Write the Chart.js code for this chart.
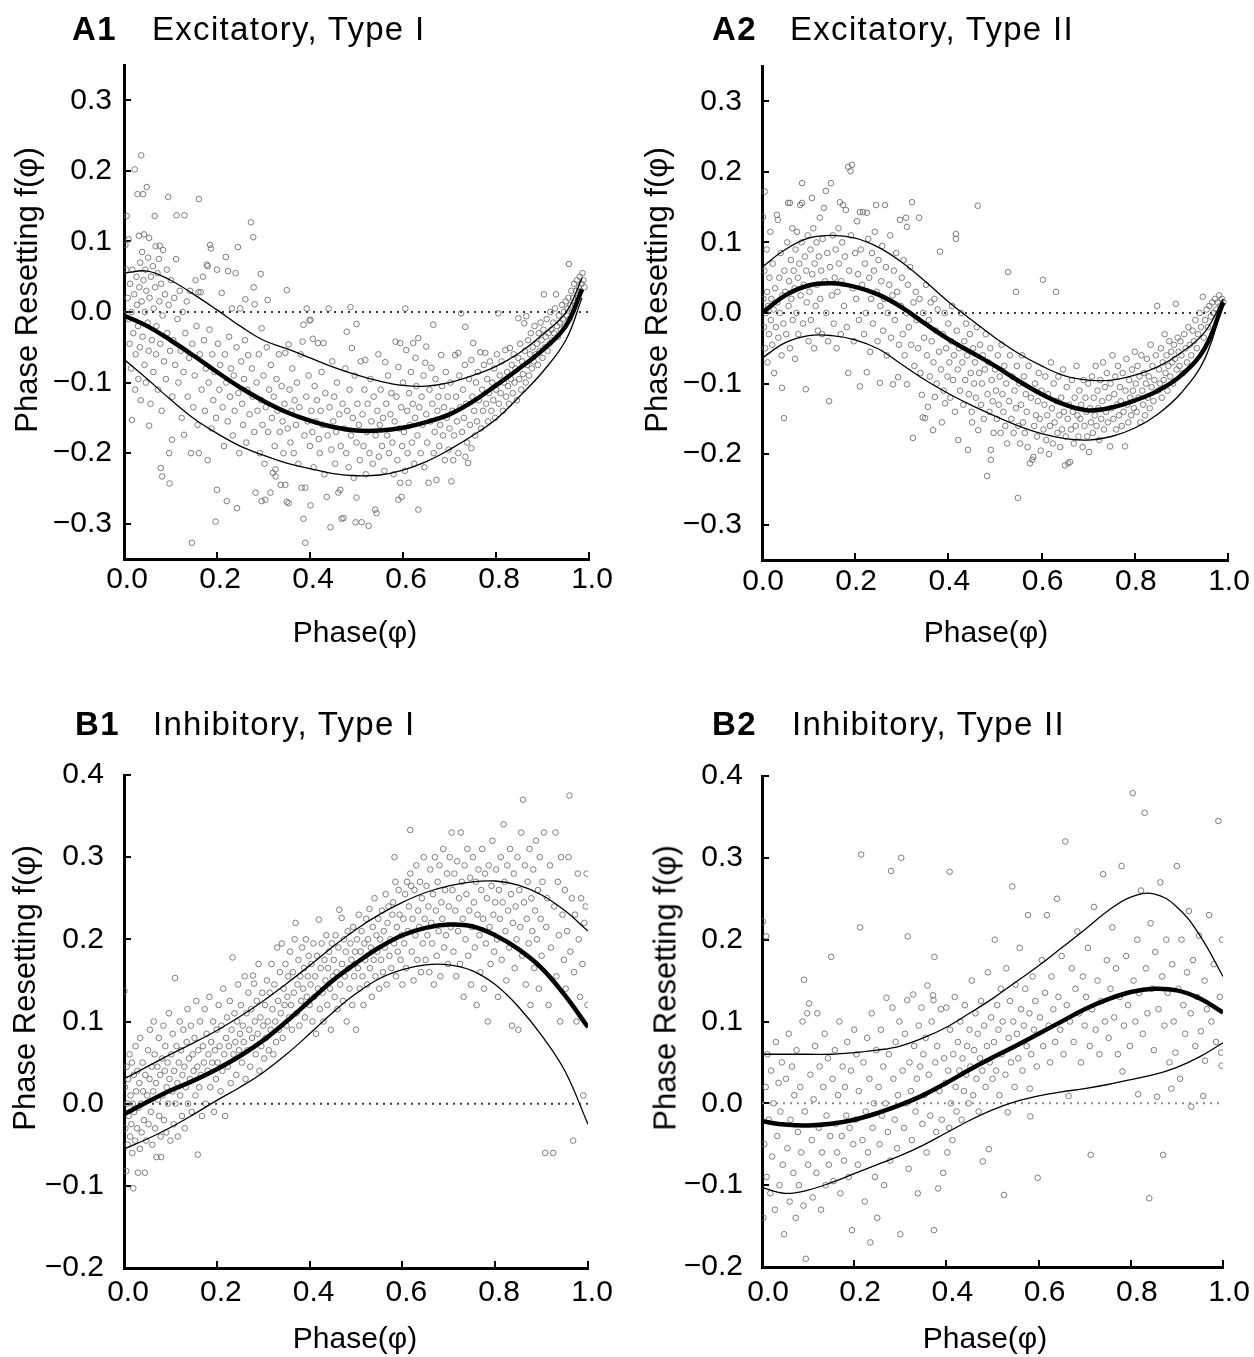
<!DOCTYPE html>
<html lang="en">
<head>
<meta charset="UTF-8" />
<title>Phase resetting curves</title>
<script src="https://cdn.jsdelivr.net/npm/chart.js@4.4.0/dist/chart.umd.min.js"></script>
<style>
  body { margin: 0; background: #fff; }
  #stage { position: relative; width: 1254px; height: 1357px; overflow: hidden; font-family: "Liberation Sans", Arial, sans-serif; color: #000; }
  #stage canvas { position: absolute; left: 0; top: 0; }
  .txt { position: absolute; line-height: 1; white-space: nowrap; }
  .ttl { font-size: 33px; letter-spacing: 1.3px; }
  .ttl b { font-weight: bold; }
  .xt { font-size: 30px; transform: translateX(-50%); }
  .yt { font-size: 31px; transform: translate(-50%, -50%) rotate(-90deg); }
</style>
</head>
<body>
<div id="stage"></div>
<script>
// ---- data ----
const xTicks = [0, 0.2, 0.4, 0.6, 0.8, 1.0];
const aYTicks = [-0.3, -0.2, -0.1, 0, 0.1, 0.2, 0.3];
const bYTicks = [-0.2, -0.1, 0, 0.1, 0.2, 0.3, 0.4];
const zeroLineX = [0, 1];

const a1CurveX = [0,0.05,0.1,0.15,0.2,0.25,0.3,0.35,0.4,0.45,0.5,0.55,0.6,0.65,0.7,0.75,0.8,0.85,0.9,0.95,0.985];
const a1Mean  = [-0.005,-0.02,-0.04,-0.062,-0.085,-0.107,-0.126,-0.142,-0.154,-0.163,-0.168,-0.168,-0.164,-0.156,-0.145,-0.127,-0.104,-0.08,-0.054,-0.02,0.032];
const a1Upper = [0.055,0.058,0.045,0.025,0.003,-0.02,-0.04,-0.052,-0.065,-0.078,-0.089,-0.098,-0.104,-0.105,-0.1,-0.09,-0.077,-0.058,-0.032,-0.001,0.048];
const a1Lower = [-0.067,-0.095,-0.124,-0.151,-0.172,-0.19,-0.203,-0.214,-0.222,-0.229,-0.232,-0.231,-0.224,-0.212,-0.195,-0.175,-0.152,-0.12,-0.085,-0.04,0.02];

const a2CurveX = [0,0.05,0.1,0.15,0.2,0.25,0.3,0.35,0.4,0.45,0.5,0.55,0.6,0.65,0.7,0.75,0.8,0.85,0.9,0.95,0.99];
const a2Mean  = [0.0,0.025,0.039,0.042,0.037,0.026,0.008,-0.015,-0.037,-0.056,-0.075,-0.096,-0.115,-0.13,-0.138,-0.134,-0.124,-0.11,-0.088,-0.05,0.015];
const a2Upper = [0.065,0.09,0.106,0.11,0.106,0.093,0.072,0.045,0.016,-0.01,-0.035,-0.057,-0.075,-0.089,-0.095,-0.095,-0.088,-0.076,-0.056,-0.027,0.02];
const a2Lower = [-0.064,-0.042,-0.032,-0.032,-0.038,-0.051,-0.073,-0.095,-0.114,-0.131,-0.146,-0.16,-0.171,-0.178,-0.18,-0.175,-0.163,-0.143,-0.113,-0.065,0.015];

const b1CurveX = [0,0.05,0.1,0.15,0.2,0.25,0.3,0.35,0.4,0.45,0.5,0.55,0.6,0.65,0.7,0.75,0.8,0.85,0.9,0.95,1.0];
const b1Mean  = [-0.013,0.002,0.016,0.028,0.042,0.058,0.077,0.1,0.125,0.15,0.171,0.19,0.205,0.214,0.218,0.216,0.205,0.188,0.165,0.132,0.093];
const b1Upper = [0.03,0.045,0.06,0.074,0.089,0.106,0.125,0.146,0.168,0.191,0.212,0.23,0.245,0.257,0.265,0.27,0.271,0.266,0.254,0.235,0.21];
const b1Lower = [-0.055,-0.043,-0.029,-0.013,0.004,0.02,0.038,0.06,0.085,0.111,0.134,0.152,0.163,0.169,0.169,0.162,0.145,0.118,0.083,0.04,-0.025];

const b2CurveX = [0,0.05,0.1,0.15,0.2,0.25,0.3,0.35,0.4,0.45,0.5,0.55,0.6,0.65,0.7,0.75,0.8,0.85,0.9,0.95,1.0];
const b2Mean  = [-0.022,-0.026,-0.027,-0.025,-0.02,-0.012,-0.002,0.01,0.025,0.041,0.056,0.07,0.085,0.1,0.115,0.127,0.136,0.14,0.138,0.128,0.111];
const b2Upper = [0.06,0.06,0.06,0.06,0.062,0.065,0.07,0.08,0.093,0.11,0.128,0.148,0.168,0.19,0.212,0.235,0.252,0.256,0.24,0.205,0.155];
const b2Lower = [-0.103,-0.11,-0.106,-0.097,-0.086,-0.075,-0.064,-0.051,-0.036,-0.021,-0.008,0.002,0.009,0.014,0.018,0.023,0.029,0.035,0.044,0.057,0.074];

const a1Points = [
[0.003,0.095],[0.005,0.06],[0.006,0.136],[0.008,0.02],[0.01,-0.01],[0.01,0.103],[0.012,-0.045],[0.013,0.04],[0.015,-0.08],[0.016,0.0],[0.017,-0.153],[0.018,0.06],[0.02,-0.03],[0.022,0.025],[0.023,0.202],[0.024,-0.11],[0.025,-0.06],[0.027,0.05],[0.028,0.01],[0.029,0.167],[0.03,-0.02],[0.031,-0.095],[0.032,0.108],[0.033,0.035],[0.034,-0.05],[0.035,0.07],[0.036,-0.125],[0.037,0.222],[0.038,0.015],[0.039,0.085],[0.04,-0.035],[0.041,0.167],[0.042,0.045],[0.043,0.11],[0.044,-0.075],[0.045,0.0],[0.046,0.06],[0.047,-0.1],[0.048,0.03],[0.049,0.177],
[0.051,-0.015],[0.052,0.077],[0.053,-0.055],[0.054,0.105],[0.054,-0.161],[0.055,0.02],[0.057,-0.13],[0.058,0.05],[0.06,-0.04],[0.062,0.065],[0.063,-0.085],[0.064,0.005],[0.066,0.136],[0.067,0.035],[0.068,0.093],[0.069,-0.06],[0.07,-0.02],[0.072,0.055],[0.073,-0.11],[0.075,0.075],[0.076,0.015],[0.077,0.094],[0.078,-0.045],[0.079,-0.221],[0.08,0.04],[0.081,-0.14],[0.082,-0.233],[0.083,-0.005],[0.084,0.088],[0.086,-0.07],[0.088,0.025],[0.09,-0.095],[0.092,0.06],[0.093,-0.03],[0.095,0.163],[0.096,0.01],[0.097,-0.2],[0.098,-0.243],[0.099,-0.055],
[0.101,0.045],[0.103,-0.181],[0.104,-0.12],[0.106,-0.04],[0.108,0.02],[0.11,-0.075],[0.112,0.075],[0.113,0.137],[0.115,-0.01],[0.117,-0.1],[0.12,0.03],[0.122,-0.055],[0.124,-0.15],[0.126,0.0],[0.128,-0.085],[0.129,-0.174],[0.13,0.137],[0.132,-0.03],[0.135,0.015],[0.137,-0.12],[0.14,-0.065],[0.142,0.03],[0.144,-0.2],[0.146,-0.327],[0.147,-0.045],[0.149,-0.135],
[0.152,-0.09],[0.154,0.045],[0.156,-0.02],[0.158,-0.16],[0.16,0.028],[0.161,0.16],[0.161,-0.2],[0.163,-0.06],[0.165,0.028],[0.167,-0.11],[0.17,0.05],[0.172,-0.04],[0.174,-0.14],[0.176,-0.08],[0.178,0.067],[0.18,0.065],[0.18,-0.21],[0.182,-0.1],[0.184,-0.025],[0.185,0.095],[0.187,0.09],[0.188,-0.165],[0.19,-0.06],[0.192,-0.125],[0.195,-0.085],[0.197,-0.297],[0.198,-0.15],
[0.2,0.06],[0.2,-0.252],[0.202,-0.045],[0.205,-0.11],[0.207,-0.075],[0.21,0.027],[0.212,-0.135],[0.215,-0.19],[0.217,-0.06],[0.219,0.078],[0.22,-0.1],[0.221,-0.268],[0.223,-0.155],[0.224,0.058],[0.226,-0.035],[0.228,-0.12],[0.23,-0.08],[0.232,0.005],[0.234,-0.175],[0.236,-0.09],[0.238,-0.14],[0.24,0.055],[0.242,-0.05],[0.243,-0.278],[0.245,0.092],[0.246,-0.115],[0.248,-0.2],[0.25,0.005],
[0.252,-0.07],[0.254,-0.13],[0.256,-0.16],[0.258,-0.095],[0.26,-0.04],[0.261,0.018],[0.263,-0.185],[0.265,-0.11],[0.267,-0.061],[0.27,-0.145],[0.273,0.127],[0.275,-0.08],[0.277,-0.12],[0.278,0.106],[0.279,0.035],[0.28,-0.17],[0.281,0.011],[0.283,-0.256],[0.285,-0.1],[0.287,-0.14],[0.29,-0.06],[0.292,-0.2],[0.294,0.054],[0.295,-0.125],[0.296,-0.023],[0.296,-0.268],[0.298,-0.16],
[0.3,-0.09],[0.302,-0.215],[0.304,-0.266],[0.305,-0.135],[0.307,-0.05],[0.309,0.017],[0.31,-0.17],[0.312,-0.11],[0.315,-0.256],[0.316,-0.075],[0.318,-0.15],[0.32,-0.228],[0.322,-0.12],[0.324,-0.19],[0.326,-0.223],[0.326,-0.233],[0.328,-0.095],[0.33,-0.14],[0.333,-0.06],[0.335,-0.17],[0.337,-0.245],[0.339,-0.105],[0.341,-0.155],[0.343,-0.2],[0.345,-0.13],[0.347,-0.245],[0.347,-0.058],[0.35,0.031],[0.35,-0.269],
[0.352,-0.165],[0.354,-0.271],[0.354,-0.046],[0.356,-0.11],[0.358,-0.185],[0.36,-0.14],[0.362,-0.08],[0.365,-0.2],[0.367,-0.125],[0.37,-0.16],[0.372,-0.1],[0.375,-0.215],[0.377,-0.135],[0.38,-0.06],[0.382,-0.249],[0.384,-0.042],[0.386,-0.018],[0.386,-0.293],[0.388,-0.175],[0.39,-0.327],[0.39,-0.249],[0.392,-0.12],[0.393,0.005],[0.395,-0.155],[0.397,-0.09],[0.399,-0.012],[0.4,-0.19],
[0.401,-0.011],[0.401,-0.274],[0.403,-0.14],[0.405,-0.17],[0.406,-0.038],[0.408,-0.22],[0.41,-0.105],[0.412,-0.155],[0.415,-0.125],[0.417,-0.044],[0.419,-0.18],[0.421,-0.2],[0.423,-0.14],[0.425,-0.085],[0.427,-0.16],[0.429,-0.044],[0.431,-0.23],[0.433,-0.115],[0.436,-0.262],[0.438,-0.175],[0.44,0.005],[0.442,-0.135],[0.444,-0.305],[0.446,-0.195],[0.448,-0.07],[0.45,-0.155],
[0.452,-0.12],[0.454,-0.215],[0.456,-0.17],[0.458,-0.1],[0.461,-0.256],[0.463,-0.145],[0.465,-0.252],[0.466,-0.19],[0.468,-0.293],[0.47,-0.13],[0.472,-0.292],[0.474,-0.165],[0.476,-0.08],[0.478,-0.2],[0.479,-0.028],[0.48,-0.14],[0.483,-0.22],[0.485,-0.11],[0.487,0.007],[0.488,-0.175],[0.49,-0.051],[0.492,-0.15],[0.494,-0.235],[0.496,-0.09],[0.498,-0.298],[0.5,-0.017],[0.5,-0.263],[0.5,-0.185],
[0.502,-0.13],[0.505,-0.16],[0.507,-0.21],[0.509,-0.07],[0.511,-0.298],[0.513,-0.145],[0.515,-0.19],[0.517,-0.11],[0.519,-0.068],[0.52,-0.23],[0.522,-0.17],[0.524,-0.13],[0.526,-0.303],[0.528,-0.2],[0.53,-0.095],[0.532,-0.155],[0.535,-0.215],[0.537,-0.12],[0.54,-0.28],[0.541,-0.175],[0.543,-0.285],[0.545,-0.14],[0.547,-0.06],[0.548,-0.205],[0.55,-0.16],
[0.552,-0.11],[0.555,-0.19],[0.557,-0.15],[0.56,-0.225],[0.562,-0.071],[0.564,-0.13],[0.566,-0.175],[0.568,-0.09],[0.57,-0.2],[0.573,-0.145],[0.575,-0.115],[0.577,-0.185],[0.58,-0.23],[0.582,-0.155],[0.584,-0.042],[0.586,-0.12],[0.588,-0.21],[0.59,-0.078],[0.59,-0.266],[0.592,-0.165],[0.594,-0.044],[0.594,-0.242],[0.596,-0.135],[0.597,-0.262],[0.598,-0.19],[0.6,-0.1],
[0.602,-0.17],[0.604,-0.225],[0.605,0.005],[0.607,-0.054],[0.609,-0.14],[0.61,-0.2],[0.612,-0.242],[0.613,-0.115],[0.615,-0.16],[0.617,-0.085],[0.619,-0.185],[0.621,-0.13],[0.622,-0.044],[0.624,-0.215],[0.626,-0.15],[0.627,-0.065],[0.629,-0.105],[0.631,-0.175],[0.633,-0.037],[0.633,-0.28],[0.635,-0.135],[0.638,-0.2],[0.64,-0.12],[0.642,-0.16],[0.644,-0.09],[0.646,-0.22],[0.648,-0.072],[0.65,-0.049],[0.65,-0.145],
[0.652,-0.185],[0.655,-0.242],[0.657,-0.11],[0.659,-0.155],[0.661,-0.079],[0.663,-0.13],[0.665,-0.018],[0.666,-0.2],[0.668,-0.17],[0.67,-0.095],[0.672,-0.238],[0.674,-0.14],[0.676,-0.12],[0.678,-0.19],[0.68,-0.16],[0.682,-0.061],[0.684,-0.105],[0.686,-0.175],[0.688,-0.135],[0.69,-0.21],[0.692,-0.085],[0.694,-0.15],[0.696,-0.12],[0.698,-0.195],[0.7,-0.165],
[0.702,-0.1],[0.704,-0.24],[0.706,-0.14],[0.708,-0.21],[0.71,-0.175],[0.712,-0.061],[0.714,-0.12],[0.716,-0.155],[0.719,-0.2],[0.719,-0.058],[0.721,-0.09],[0.723,-0.135],[0.725,-0.002],[0.727,-0.17],[0.729,-0.11],[0.731,-0.15],[0.733,-0.075],[0.734,-0.205],[0.734,-0.021],[0.736,-0.13],[0.738,-0.185],[0.74,-0.214],[0.742,-0.095],[0.744,-0.16],[0.747,-0.068],[0.747,-0.193],[0.749,-0.12],[0.751,-0.044],
[0.753,-0.14],[0.755,-0.175],[0.757,-0.1],[0.759,-0.155],[0.761,-0.085],[0.763,-0.125],[0.766,-0.057],[0.768,-0.165],[0.77,-0.11],[0.772,-0.14],[0.774,-0.075],[0.777,-0.058],[0.779,-0.13],[0.781,-0.095],[0.783,-0.155],[0.785,-0.115],[0.787,-0.07],[0.79,-0.14],[0.792,-0.1],[0.794,-0.125],[0.796,-0.08],[0.798,-0.15],[0.8,-0.11],
[0.802,-0.06],[0.805,-0.002],[0.806,-0.13],[0.808,-0.09],[0.81,-0.115],[0.812,-0.07],[0.815,-0.14],[0.817,-0.1],[0.82,-0.054],[0.822,-0.12],[0.824,-0.085],[0.826,-0.105],[0.828,-0.13],[0.83,-0.051],[0.832,-0.095],[0.834,-0.075],[0.836,-0.115],[0.838,-0.06],[0.84,-0.1],[0.842,-0.08],[0.845,-0.125],[0.848,-0.009],[0.848,-0.065],[0.85,-0.095],
[0.852,-0.045],[0.854,-0.11],[0.856,-0.07],[0.858,-0.088],[0.861,-0.016],[0.862,-0.055],[0.864,-0.1],[0.865,-0.006],[0.867,-0.075],[0.869,-0.04],[0.871,-0.09],[0.873,-0.06],[0.875,-0.03],[0.877,-0.08],[0.879,-0.05],[0.881,-0.07],[0.883,-0.02],[0.885,-0.06],[0.888,-0.045],[0.89,-0.075],[0.892,-0.03],[0.894,-0.055],[0.896,-0.015],[0.898,-0.04],[0.9,-0.065],
[0.902,-0.025],[0.903,0.025],[0.905,-0.05],[0.907,-0.035],[0.909,-0.01],[0.911,-0.055],[0.913,-0.03],[0.915,-0.045],[0.917,0.0],[0.919,-0.025],[0.921,-0.04],[0.923,-0.015],[0.925,-0.03],[0.927,0.005],[0.929,0.025],[0.931,-0.02],[0.933,-0.035],[0.935,-0.005],[0.937,-0.015],[0.94,-0.025],[0.942,0.01],[0.944,-0.01],[0.946,0.0],[0.948,-0.02],[0.95,0.015],
[0.952,-0.005],[0.954,0.005],[0.956,0.02],[0.957,0.068],[0.958,-0.01],[0.96,0.01],[0.962,0.03],[0.964,0.0],[0.966,0.02],[0.968,0.04],[0.97,0.01],[0.972,0.03],[0.974,0.045],[0.976,0.02],[0.978,0.035],[0.98,0.05],[0.982,0.03],[0.984,0.04],[0.986,0.055],[0.988,0.045],[0.99,0.035]
];

const a2Points = [
[0.002,0.136],[0.003,0.02],[0.004,-0.02],[0.005,0.06],[0.006,0.172],[0.007,-0.05],[0.008,0.0],[0.01,0.09],[0.011,0.03],[0.012,-0.07],[0.013,0.01],[0.015,-0.03],[0.016,0.05],[0.018,0.115],[0.019,-0.01],[0.02,0.02],[0.022,-0.045],[0.023,0.07],[0.025,0.005],[0.026,-0.085],[0.028,0.035],[0.03,-0.02],[0.032,0.139],[0.033,0.015],[0.034,0.132],[0.035,-0.035],[0.037,0.05],[0.038,0.0],[0.04,0.085],[0.042,-0.06],[0.043,-0.106],[0.044,0.025],[0.046,-0.015],[0.047,-0.149],[0.048,0.06],[0.05,0.03],
[0.052,-0.03],[0.054,0.1],[0.056,0.156],[0.057,0.01],[0.058,0.045],[0.06,0.156],[0.06,-0.05],[0.062,0.075],[0.063,0.02],[0.065,0.12],[0.066,-0.01],[0.068,0.06],[0.07,0.035],[0.071,-0.065],[0.072,0.09],[0.074,0.0],[0.075,0.115],[0.077,0.05],[0.078,-0.03],[0.08,0.07],[0.082,0.153],[0.083,0.025],[0.085,0.1],[0.086,0.184],[0.086,0.156],[0.088,-0.015],[0.09,0.04],[0.092,0.08],[0.094,-0.108],[0.095,0.06],[0.096,0.015],[0.098,0.11],[0.1,-0.04],
[0.102,0.03],[0.104,0.09],[0.105,-0.01],[0.107,0.163],[0.108,0.055],[0.11,0.12],[0.112,-0.05],[0.113,0.07],[0.115,0.01],[0.117,0.1],[0.118,0.04],[0.12,-0.025],[0.122,0.08],[0.124,0.135],[0.125,0.02],[0.127,0.06],[0.129,-0.03],[0.13,0.105],[0.133,0.149],[0.135,0.045],[0.137,0.173],[0.138,0.0],[0.14,0.085],[0.142,-0.04],[0.144,-0.125],[0.146,0.065],[0.148,0.184],[0.15,0.025],
[0.152,0.11],[0.154,-0.015],[0.156,0.05],[0.158,0.09],[0.16,-0.05],[0.162,0.03],[0.164,0.12],[0.165,0.07],[0.167,0.157],[0.169,-0.03],[0.17,0.045],[0.172,0.1],[0.174,0.153],[0.176,0.01],[0.178,0.08],[0.18,0.146],[0.182,-0.02],[0.185,0.207],[0.185,-0.085],[0.187,0.06],[0.19,0.201],[0.191,0.11],[0.193,0.21],[0.195,0.035],[0.197,-0.04],[0.2,0.085],
[0.202,0.02],[0.204,0.13],[0.206,0.055],[0.208,-0.01],[0.21,0.143],[0.21,-0.104],[0.212,0.09],[0.215,0.04],[0.217,0.143],[0.219,-0.03],[0.221,0.07],[0.223,0.0],[0.225,0.142],[0.225,-0.084],[0.228,0.105],[0.23,0.05],[0.232,-0.055],[0.234,0.02],[0.236,0.085],[0.238,-0.015],[0.24,0.06],[0.242,0.115],[0.245,0.153],[0.246,0.03],[0.248,-0.04],[0.25,0.075],
[0.253,-0.099],[0.254,0.01],[0.256,0.045],[0.258,0.095],[0.26,-0.025],[0.262,0.02],[0.264,0.153],[0.266,0.065],[0.268,-0.06],[0.27,0.0],[0.273,0.04],[0.275,0.11],[0.277,-0.035],[0.28,0.025],[0.281,-0.101],[0.283,0.06],[0.285,-0.01],[0.288,0.085],[0.29,0.03],[0.292,-0.091],[0.294,-0.045],[0.296,0.132],[0.298,0.01],
[0.3,0.05],[0.302,-0.03],[0.304,0.075],[0.306,-0.06],[0.309,0.135],[0.31,0.0],[0.311,0.122],[0.311,-0.101],[0.313,0.04],[0.315,-0.02],[0.318,0.065],[0.32,-0.045],[0.322,0.157],[0.324,-0.177],[0.325,0.015],[0.327,-0.075],[0.33,0.03],[0.332,-0.01],[0.335,-0.05],[0.337,0.135],[0.338,0.02],[0.34,-0.085],[0.343,-0.116],[0.345,-0.148],[0.346,0.0],[0.348,-0.035],[0.35,-0.149],
[0.352,0.04],[0.354,-0.06],[0.356,-0.133],[0.358,-0.01],[0.36,-0.09],[0.362,0.015],[0.364,-0.04],[0.367,-0.166],[0.368,-0.07],[0.37,0.02],[0.371,-0.119],[0.373,-0.025],[0.375,-0.1],[0.377,0.005],[0.38,-0.055],[0.382,0.087],[0.384,-0.08],[0.386,-0.155],[0.388,-0.03],[0.39,-0.11],[0.392,0.0],[0.393,-0.128],[0.395,-0.05],[0.398,-0.09],[0.4,-0.015],
[0.402,-0.07],[0.404,-0.12],[0.406,-0.04],[0.408,0.01],[0.41,-0.095],[0.412,-0.06],[0.414,-0.14],[0.416,0.112],[0.416,0.105],[0.418,-0.025],[0.42,-0.08],[0.421,-0.18],[0.423,-0.05],[0.425,-0.11],[0.427,0.0],[0.43,-0.07],[0.432,-0.13],[0.434,-0.04],[0.436,-0.095],[0.438,-0.015],[0.44,-0.06],[0.442,-0.194],[0.444,-0.115],[0.446,-0.03],[0.448,-0.085],[0.45,-0.14],
[0.451,-0.155],[0.453,-0.05],[0.455,-0.1],[0.457,-0.07],[0.459,-0.12],[0.461,-0.02],[0.463,0.152],[0.464,-0.166],[0.466,-0.085],[0.468,-0.045],[0.47,-0.13],[0.472,-0.1],[0.474,-0.06],[0.476,-0.15],[0.478,-0.08],[0.48,-0.03],[0.483,-0.231],[0.484,-0.115],[0.486,-0.07],[0.488,-0.14],[0.49,-0.05],[0.491,-0.208],[0.491,-0.194],[0.493,-0.095],[0.495,-0.125],[0.497,-0.17],[0.5,-0.08],
[0.502,-0.11],[0.504,-0.15],[0.506,-0.06],[0.508,-0.13],[0.51,-0.09],[0.512,-0.17],[0.514,-0.045],[0.516,-0.115],[0.518,-0.14],[0.52,-0.075],[0.522,-0.16],[0.524,-0.1],[0.526,-0.185],[0.528,0.058],[0.53,-0.125],[0.532,-0.06],[0.535,-0.15],[0.537,-0.09],[0.54,-0.17],[0.542,-0.11],[0.545,0.03],[0.545,-0.135],[0.547,-0.075],[0.549,-0.262],[0.55,-0.16],
[0.552,-0.1],[0.554,-0.185],[0.556,-0.13],[0.558,-0.06],[0.56,-0.155],[0.562,-0.09],[0.564,-0.17],[0.566,-0.115],[0.568,-0.14],[0.57,-0.19],[0.572,-0.075],[0.575,-0.213],[0.577,-0.12],[0.58,-0.208],[0.582,-0.204],[0.584,-0.16],[0.586,-0.1],[0.588,-0.145],[0.59,-0.175],[0.592,-0.125],[0.594,-0.085],[0.596,-0.15],[0.598,-0.195],[0.6,-0.11],
[0.603,0.047],[0.604,-0.165],[0.606,-0.13],[0.608,-0.09],[0.61,-0.18],[0.612,-0.145],[0.614,-0.115],[0.616,-0.2],[0.618,-0.16],[0.62,-0.07],[0.622,-0.135],[0.624,-0.185],[0.626,-0.1],[0.628,-0.155],[0.631,0.03],[0.632,-0.125],[0.634,-0.17],[0.636,-0.09],[0.638,-0.145],[0.64,-0.19],[0.642,-0.12],[0.644,-0.165],[0.646,-0.08],[0.648,-0.14],[0.65,-0.216],
[0.652,-0.175],[0.654,-0.105],[0.656,-0.15],[0.657,-0.213],[0.659,-0.13],[0.661,-0.211],[0.663,-0.165],[0.665,-0.095],[0.667,-0.14],[0.669,-0.185],[0.671,-0.12],[0.673,-0.16],[0.675,-0.075],[0.677,-0.145],[0.679,-0.175],[0.681,-0.11],[0.683,-0.15],[0.685,-0.13],[0.688,-0.19],[0.69,-0.095],[0.692,-0.16],[0.694,-0.12],[0.696,-0.14],[0.698,-0.175],[0.7,-0.1],
[0.702,-0.197],[0.704,-0.135],[0.706,-0.155],[0.708,-0.09],[0.71,-0.17],[0.712,-0.12],[0.714,-0.145],[0.716,-0.075],[0.718,-0.16],[0.72,-0.11],[0.722,-0.135],[0.724,-0.18],[0.726,-0.095],[0.728,-0.15],[0.73,-0.125],[0.732,-0.07],[0.734,-0.165],[0.736,-0.105],[0.738,-0.14],[0.74,-0.085],[0.742,-0.155],[0.744,-0.12],[0.747,-0.189],[0.748,-0.1],[0.75,-0.135],
[0.752,-0.06],[0.754,-0.15],[0.756,-0.115],[0.758,-0.09],[0.76,-0.165],[0.762,-0.13],[0.764,-0.075],[0.766,-0.145],[0.768,-0.105],[0.77,-0.125],[0.772,-0.16],[0.774,-0.085],[0.776,-0.14],[0.779,-0.189],[0.78,-0.11],[0.782,-0.065],[0.784,-0.13],[0.786,-0.155],[0.788,-0.095],[0.79,-0.12],[0.792,-0.145],[0.794,-0.08],[0.796,-0.11],[0.798,-0.135],[0.8,-0.055],
[0.802,-0.1],[0.804,-0.14],[0.806,-0.075],[0.808,-0.12],[0.81,-0.09],[0.812,-0.155],[0.814,-0.06],[0.816,-0.11],[0.818,-0.13],[0.82,-0.085],[0.822,-0.145],[0.824,-0.1],[0.826,-0.065],[0.828,-0.12],[0.83,-0.09],[0.832,-0.135],[0.834,-0.045],[0.836,-0.105],[0.838,-0.075],[0.84,-0.125],[0.842,-0.095],[0.845,-0.06],[0.848,0.01],[0.85,-0.11],
[0.852,-0.08],[0.854,-0.1],[0.856,-0.05],[0.858,-0.12],[0.86,-0.07],[0.862,-0.095],[0.864,-0.03],[0.866,-0.085],[0.868,-0.06],[0.87,-0.11],[0.872,-0.075],[0.874,-0.04],[0.876,-0.09],[0.878,-0.055],[0.88,-0.07],[0.882,-0.1],[0.884,-0.045],[0.886,-0.065],[0.888,0.013],[0.89,-0.08],[0.892,-0.035],[0.894,-0.055],[0.896,-0.075],[0.898,-0.04],[0.9,-0.06],
[0.903,-0.085],[0.906,-0.03],[0.909,-0.05],[0.912,-0.07],[0.915,-0.02],[0.918,-0.045],[0.921,-0.06],[0.924,-0.025],[0.927,-0.04],[0.93,-0.01],[0.933,-0.05],[0.936,-0.03],[0.939,0.0],[0.942,-0.02],[0.946,0.023],[0.948,-0.035],[0.951,-0.01],[0.954,0.005],[0.957,-0.02],[0.96,0.01],[0.963,-0.005],[0.966,0.015],[0.969,0.0],[0.972,0.02],[0.975,0.005],[0.978,0.015],[0.981,0.025],[0.984,0.01],[0.987,0.02],[0.99,0.015]
];

const b1Points = [
[0.001,0.137],[0.002,0.02],[0.003,-0.03],[0.005,-0.082],[0.006,0.045],[0.007,0.0],[0.008,-0.05],[0.009,0.03],[0.01,-0.015],[0.012,0.06],[0.013,-0.04],[0.014,0.01],[0.016,-0.025],[0.017,0.05],[0.018,-0.06],[0.019,0.0],[0.02,-0.103],[0.021,0.035],[0.022,-0.01],[0.024,-0.045],[0.025,0.07],[0.026,0.015],[0.028,-0.03],[0.029,0.04],[0.03,-0.084],[0.031,-0.005],[0.033,0.025],[0.034,-0.055],[0.035,0.08],[0.037,0.0],[0.038,-0.035],[0.04,0.05],[0.041,0.015],[0.043,-0.02],[0.045,-0.084],[0.046,0.035],[0.048,-0.045],[0.05,0.01],
[0.052,0.065],[0.053,-0.025],[0.055,0.03],[0.056,0.09],[0.058,-0.01],[0.06,0.045],[0.061,-0.05],[0.063,0.015],[0.064,0.1],[0.066,0.06],[0.067,-0.03],[0.069,0.025],[0.07,-0.065],[0.072,0.045],[0.073,0.005],[0.075,0.08],[0.076,-0.015],[0.078,0.035],[0.079,-0.04],[0.08,-0.065],[0.082,0.055],[0.083,0.01],[0.085,0.095],[0.086,-0.02],[0.088,0.04],[0.089,0.07],[0.091,-0.035],[0.092,0.02],[0.094,0.05],[0.095,0.0],[0.097,0.11],[0.098,0.03],[0.1,-0.045],
[0.102,0.06],[0.104,0.015],[0.105,0.085],[0.107,-0.025],[0.108,0.04],[0.11,0.153],[0.111,0.0],[0.113,0.07],[0.115,0.025],[0.116,-0.04],[0.118,0.05],[0.12,0.1],[0.121,0.01],[0.123,0.065],[0.125,-0.015],[0.126,0.035],[0.128,0.09],[0.13,0.045],[0.131,-0.03],[0.133,0.02],[0.135,0.075],[0.137,0.115],[0.138,0.0],[0.14,0.055],[0.142,0.03],[0.144,0.095],[0.146,-0.01],[0.148,0.06],[0.15,0.04],
[0.152,0.08],[0.154,0.01],[0.156,0.125],[0.158,0.045],[0.159,-0.062],[0.16,0.065],[0.162,0.02],[0.164,0.1],[0.166,0.035],[0.168,-0.015],[0.17,0.07],[0.172,0.05],[0.174,0.115],[0.176,0.0],[0.178,0.085],[0.18,0.04],[0.182,0.06],[0.184,0.13],[0.186,0.02],[0.188,0.075],[0.19,0.05],[0.192,0.1],[0.194,-0.01],[0.196,0.065],[0.198,0.03],[0.2,0.09],
[0.202,0.05],[0.204,0.12],[0.206,0.07],[0.208,0.015],[0.21,0.095],[0.212,0.04],[0.214,0.14],[0.216,0.06],[0.218,-0.015],[0.22,0.08],[0.222,0.105],[0.224,0.045],[0.226,0.07],[0.228,0.125],[0.23,0.025],[0.232,0.09],[0.234,0.178],[0.236,0.06],[0.238,0.11],[0.24,0.075],[0.242,0.035],[0.244,0.1],[0.246,0.145],[0.248,0.065],[0.25,0.085],
[0.252,0.12],[0.254,0.05],[0.256,0.095],[0.258,0.075],[0.26,0.155],[0.262,0.03],[0.264,0.11],[0.266,0.065],[0.268,0.135],[0.27,0.09],[0.272,0.045],[0.274,0.115],[0.276,0.08],[0.278,0.156],[0.28,0.146],[0.282,0.1],[0.284,0.06],[0.286,0.125],[0.288,0.085],[0.29,0.17],[0.292,0.04],[0.294,0.105],[0.296,0.07],[0.298,0.135],[0.3,0.095],
[0.302,0.055],[0.304,0.12],[0.306,0.08],[0.308,0.15],[0.31,0.1],[0.312,0.065],[0.314,0.135],[0.316,0.09],[0.318,0.17],[0.32,0.115],[0.322,0.06],[0.324,0.145],[0.326,0.1],[0.328,0.075],[0.33,0.19],[0.332,0.125],[0.334,0.09],[0.336,0.16],[0.338,0.11],[0.34,0.195],[0.342,0.08],[0.344,0.14],[0.346,0.12],[0.348,0.17],[0.35,0.095],
[0.352,0.13],[0.354,0.155],[0.356,0.105],[0.358,0.185],[0.36,0.12],[0.362,0.09],[0.364,0.16],[0.366,0.135],[0.368,0.2],[0.37,0.22],[0.372,0.11],[0.374,0.145],[0.376,0.175],[0.378,0.095],[0.38,0.155],[0.382,0.125],[0.384,0.19],[0.386,0.14],[0.388,0.165],[0.39,0.105],[0.392,0.2],[0.394,0.13],[0.396,0.155],[0.398,0.18],[0.4,0.12],
[0.402,0.145],[0.404,0.17],[0.406,0.1],[0.408,0.195],[0.41,0.13],[0.412,0.155],[0.414,0.085],[0.416,0.18],[0.418,0.14],[0.42,0.224],[0.422,0.115],[0.424,0.165],[0.426,0.195],[0.428,0.135],[0.43,0.1],[0.432,0.175],[0.434,0.15],[0.436,0.205],[0.438,0.12],[0.44,0.165],[0.442,0.185],[0.444,0.14],[0.446,0.09],[0.448,0.195],[0.45,0.155],
[0.452,0.175],[0.454,0.13],[0.456,0.205],[0.458,0.16],[0.46,0.115],[0.462,0.19],[0.464,0.236],[0.466,0.145],[0.469,0.226],[0.47,0.17],[0.472,0.125],[0.474,0.2],[0.476,0.155],[0.478,0.185],[0.48,0.1],[0.482,0.21],[0.484,0.165],[0.486,0.14],[0.488,0.195],[0.49,0.175],[0.492,0.12],[0.494,0.215],[0.496,0.155],[0.498,0.185],[0.5,0.09],
[0.502,0.2],[0.504,0.165],[0.506,0.23],[0.508,0.14],[0.51,0.185],[0.512,0.21],[0.514,0.155],[0.516,0.12],[0.518,0.195],[0.52,0.175],[0.522,0.225],[0.524,0.145],[0.526,0.2],[0.529,0.237],[0.53,0.165],[0.532,0.19],[0.534,0.13],[0.536,0.215],[0.538,0.175],[0.54,0.25],[0.542,0.155],[0.544,0.205],[0.546,0.185],[0.548,0.225],[0.55,0.14],
[0.552,0.2],[0.554,0.175],[0.556,0.235],[0.558,0.16],[0.56,0.21],[0.562,0.19],[0.564,0.255],[0.566,0.145],[0.568,0.22],[0.57,0.24],[0.572,0.18],[0.574,0.2],[0.576,0.165],[0.578,0.23],[0.58,0.245],[0.582,0.195],[0.583,0.3],[0.585,0.27],[0.586,0.155],[0.588,0.215],[0.59,0.185],[0.592,0.26],[0.594,0.23],[0.596,0.175],[0.598,0.205],[0.6,0.145],
[0.602,0.225],[0.604,0.195],[0.606,0.255],[0.608,0.165],[0.61,0.27],[0.612,0.21],[0.614,0.24],[0.617,0.333],[0.617,0.28],[0.619,0.265],[0.62,0.185],[0.622,0.225],[0.624,0.15],[0.626,0.26],[0.628,0.205],[0.63,0.29],[0.632,0.175],[0.634,0.235],[0.636,0.215],[0.638,0.27],[0.64,0.16],[0.642,0.25],[0.644,0.195],[0.646,0.3],[0.648,0.225],[0.65,0.175],
[0.652,0.265],[0.654,0.205],[0.656,0.24],[0.658,0.16],[0.66,0.285],[0.662,0.22],[0.664,0.195],[0.666,0.255],[0.668,0.145],[0.67,0.3],[0.672,0.235],[0.674,0.18],[0.676,0.27],[0.678,0.21],[0.68,0.29],[0.682,0.155],[0.684,0.245],[0.686,0.225],[0.688,0.31],[0.69,0.19],[0.692,0.26],[0.694,0.205],[0.696,0.28],[0.698,0.17],[0.7,0.24],
[0.702,0.3],[0.704,0.215],[0.706,0.33],[0.708,0.26],[0.71,0.185],[0.712,0.28],[0.714,0.235],[0.716,0.155],[0.718,0.295],[0.72,0.21],[0.722,0.25],[0.724,0.17],[0.726,0.33],[0.728,0.27],[0.73,0.225],[0.732,0.13],[0.734,0.29],[0.736,0.2],[0.738,0.255],[0.74,0.31],[0.742,0.18],[0.744,0.235],[0.746,0.275],[0.748,0.145],[0.75,0.215],
[0.752,0.3],[0.754,0.245],[0.756,0.19],[0.758,0.27],[0.76,0.12],[0.762,0.23],[0.764,0.285],[0.766,0.205],[0.768,0.16],[0.77,0.26],[0.772,0.31],[0.774,0.225],[0.776,0.14],[0.778,0.28],[0.78,0.195],[0.782,0.25],[0.784,0.1],[0.786,0.29],[0.788,0.215],[0.79,0.17],[0.792,0.265],[0.794,0.32],[0.796,0.23],[0.798,0.185],[0.8,0.245],
[0.802,0.285],[0.804,0.2],[0.806,0.13],[0.808,0.26],[0.81,0.225],[0.812,0.3],[0.814,0.175],[0.816,0.245],[0.818,0.34],[0.82,0.27],[0.822,0.21],[0.824,0.15],[0.826,0.29],[0.828,0.235],[0.83,0.19],[0.832,0.31],[0.834,0.255],[0.836,0.095],[0.838,0.22],[0.84,0.28],[0.842,0.165],[0.844,0.24],[0.846,0.2],[0.848,0.3],[0.85,0.09],
[0.852,0.26],[0.854,0.215],[0.856,0.33],[0.858,0.18],[0.86,0.37],[0.862,0.245],[0.864,0.29],[0.866,0.145],[0.868,0.225],[0.87,0.27],[0.872,0.195],[0.874,0.31],[0.876,0.12],[0.878,0.25],[0.88,0.21],[0.882,0.285],[0.884,0.165],[0.886,0.235],[0.888,0.32],[0.89,0.2],[0.892,0.26],[0.894,0.14],[0.896,0.3],[0.898,0.225],[0.9,0.18],
[0.902,0.27],[0.905,0.33],[0.908,-0.06],[0.91,0.215],[0.912,0.25],[0.915,0.12],[0.918,0.29],[0.92,0.19],[0.925,-0.06],[0.927,0.24],[0.93,0.33],[0.932,0.155],[0.935,0.27],[0.937,0.205],[0.94,0.1],[0.942,0.3],[0.945,0.23],[0.948,0.175],[0.95,0.26],
[0.952,0.14],[0.955,0.21],[0.958,0.3],[0.96,0.375],[0.962,0.185],[0.965,0.25],[0.968,-0.045],[0.97,0.16],[0.972,0.23],[0.975,0.1],[0.978,0.28],[0.98,0.2],[0.983,0.13],[0.985,0.25],[0.988,0.17],[0.99,0.01],[0.992,0.22],[0.995,0.24],[0.997,0.28],[0.999,0.12]
];

const b2Points = [
[0.002,0.222],[0.009,0.204],[0.003,-0.14],[0.005,-0.05],[0.008,0.02],[0.01,-0.09],[0.012,0.06],[0.015,-0.02],[0.018,-0.11],[0.02,0.04],[0.022,-0.065],[0.025,0.0],[0.028,-0.13],[0.03,0.075],[0.033,-0.04],[0.036,0.025],[0.038,-0.1],[0.04,-0.01],[0.043,0.05],[0.045,-0.075],[0.048,-0.16],
[0.052,0.03],[0.055,-0.055],[0.058,0.085],[0.06,-0.12],[0.062,-0.02],[0.065,0.045],[0.068,-0.085],[0.07,0.01],[0.073,-0.14],[0.075,0.065],[0.078,-0.035],[0.08,-0.1],[0.083,0.02],[0.085,-0.06],[0.088,0.1],[0.09,-0.125],[0.091,0.151],[0.093,-0.01],[0.095,-0.19],[0.098,0.11],[0.1,-0.075],[0.102,0.122],
[0.105,0.035],[0.108,-0.045],[0.11,-0.115],[0.112,0.005],[0.115,0.07],[0.118,-0.085],[0.12,0.11],[0.123,-0.03],[0.125,0.045],[0.128,-0.13],[0.13,-0.06],[0.133,0.02],[0.136,0.085],[0.138,-0.1],[0.14,-0.015],[0.143,0.055],[0.145,-0.075],[0.148,-0.04],[0.15,0.179],
[0.153,0.03],[0.155,-0.095],[0.158,0.065],[0.16,-0.025],[0.163,-0.06],[0.165,0.01],[0.168,0.1],[0.17,-0.11],[0.173,-0.04],[0.175,0.045],[0.178,-0.07],[0.18,0.02],[0.183,-0.015],[0.185,0.075],[0.188,-0.09],[0.19,-0.03],[0.193,0.04],[0.195,-0.155],[0.198,-0.05],[0.2,0.09],
[0.203,-0.02],[0.205,0.06],[0.208,-0.075],[0.21,0.015],[0.213,0.215],[0.215,0.304],[0.218,-0.045],[0.22,0.05],[0.223,-0.12],[0.225,-0.01],[0.228,0.08],[0.23,-0.06],[0.233,0.03],[0.235,-0.17],[0.238,0.11],[0.24,-0.03],[0.243,0.0],[0.245,-0.09],[0.248,0.065],[0.25,-0.14],
[0.253,0.02],[0.255,-0.05],[0.258,0.09],[0.26,-0.015],[0.263,0.045],[0.265,-0.1],[0.268,0.0],[0.27,0.129],[0.273,-0.035],[0.275,0.06],[0.278,-0.07],[0.28,0.284],[0.283,0.117],[0.285,0.03],[0.288,-0.02],[0.29,0.075],[0.293,-0.055],[0.295,0.01],[0.298,0.1],[0.3,-0.16],
[0.302,0.3],[0.305,0.04],[0.308,-0.03],[0.31,0.085],[0.313,0.0],[0.315,0.126],[0.316,0.204],[0.318,-0.08],[0.32,0.05],[0.323,0.015],[0.325,-0.045],[0.328,0.133],[0.33,0.07],[0.333,-0.01],[0.336,0.03],[0.338,-0.11],[0.34,0.095],[0.343,0.045],[0.346,0.117],[0.348,-0.025],[0.35,0.06],
[0.352,0.01],[0.355,0.08],[0.357,-0.06],[0.359,0.144],[0.362,0.035],[0.365,-0.015],[0.368,0.1],[0.371,0.132],[0.372,0.126],[0.373,-0.155],[0.374,0.179],[0.376,0.05],[0.378,-0.035],[0.38,0.07],[0.382,-0.104],[0.385,0.015],[0.388,0.115],[0.39,-0.02],[0.393,-0.085],[0.395,0.055],[0.398,0.025],[0.4,0.117],
[0.402,-0.06],[0.404,0.04],[0.406,-0.03],[0.407,0.283],[0.408,0.09],[0.41,0.0],[0.413,-0.045],[0.415,0.06],[0.418,0.13],[0.42,0.02],[0.422,-0.01],[0.425,0.075],[0.428,0.04],[0.43,0.1],[0.433,-0.02],[0.435,0.055],[0.438,0.015],[0.44,0.12],[0.443,0.035],[0.445,0.07],[0.448,0.0],[0.45,0.09],
[0.452,0.045],[0.455,0.15],[0.458,0.01],[0.46,0.065],[0.463,0.11],[0.465,0.03],[0.468,0.085],[0.47,-0.01],[0.473,0.055],[0.475,0.125],[0.478,0.04],[0.479,-0.071],[0.482,0.095],[0.485,0.02],[0.488,0.07],[0.49,0.16],[0.492,-0.056],[0.494,0.05],[0.497,0.105],[0.5,0.03],
[0.503,0.075],[0.505,0.2],[0.508,0.04],[0.51,0.12],[0.513,0.09],[0.515,0.01],[0.518,0.14],[0.52,0.06],[0.522,0.1],[0.525,-0.112],[0.528,0.035],[0.53,0.165],[0.533,-0.011],[0.535,0.08],[0.538,0.125],[0.54,0.05],[0.543,0.265],[0.545,0.1],[0.548,0.02],[0.55,0.145],
[0.553,0.085],[0.556,0.055],[0.559,0.19],[0.562,0.115],[0.565,0.04],[0.568,0.095],[0.571,0.14],[0.574,0.07],[0.577,0.23],[0.58,0.11],[0.581,0.018],[0.582,-0.016],[0.584,0.06],[0.587,0.155],[0.59,0.09],[0.593,0.125],[0.596,0.045],[0.598,-0.091],
[0.603,0.105],[0.607,0.175],[0.61,0.07],[0.614,0.135],[0.618,0.23],[0.622,0.095],[0.625,0.05],[0.628,0.155],[0.632,0.115],[0.636,0.075],[0.64,0.25],[0.643,0.13],[0.647,0.09],[0.65,0.18],[0.654,0.06],[0.658,0.32],[0.661,0.12],[0.665,0.009],[0.668,0.1],[0.672,0.165],[0.676,0.075],[0.68,0.14],[0.684,0.21],[0.688,0.11],[0.692,0.05],[0.696,0.155],[0.7,0.095],
[0.703,0.13],[0.707,0.19],[0.711,0.07],[0.713,-0.063],[0.716,0.115],[0.72,0.24],[0.724,0.09],[0.728,0.15],[0.732,0.06],[0.736,0.125],[0.74,0.28],[0.744,0.1],[0.748,0.175],[0.752,0.08],[0.756,0.14],[0.76,0.215],[0.764,0.105],[0.768,0.165],[0.772,0.06],[0.776,0.13],[0.78,0.29],[0.782,0.039],[0.785,0.095],[0.79,0.18],[0.794,0.12],[0.798,0.07],
[0.804,0.379],[0.806,0.15],[0.81,0.1],[0.814,0.2],[0.816,0.011],[0.818,0.135],[0.822,0.26],[0.826,0.085],[0.83,0.355],[0.833,0.165],[0.836,0.11],[0.84,-0.116],[0.843,0.22],[0.846,0.14],[0.85,0.065],[0.853,0.185],[0.857,0.008],[0.86,0.115],[0.864,0.27],[0.868,0.155],[0.87,-0.063],[0.873,0.095],[0.877,0.2],[0.88,0.135],[0.884,0.05],[0.888,0.018],[0.89,0.17],[0.893,0.1],[0.897,0.062],[0.9,0.29],
[0.903,0.14],[0.907,0.03],[0.91,0.2],[0.914,0.12],[0.918,0.085],[0.922,0.16],[0.926,0.235],[0.93,0.11],[0.931,-0.004],[0.935,0.175],[0.94,0.07],[0.944,0.13],[0.948,0.205],[0.952,0.088],[0.957,0.009],[0.96,0.15],[0.961,0.052],[0.965,0.115],[0.97,0.23],[0.975,0.1],[0.98,0.17],[0.985,0.075],[0.99,0.345],[0.993,0.13],[0.996,0.062],[0.997,0.046],[0.998,0.2]
];

const panelLetters = ['A1', 'A2', 'B1', 'B2'];
const panelNames = ['Excitatory, Type I', 'Excitatory, Type II', 'Inhibitory, Type I', 'Inhibitory, Type II'];
const xTitle = 'Phase(\u03c6)';
const yTitle = 'Phase Resetting f(\u03c6)';

// ---- layout (page pixels) ----
const W = 1254, H = 1357;
const FONT = '"Liberation Sans", Arial, sans-serif';
const panels = [
  { curveX: a1CurveX, mean: a1Mean, upper: a1Upper, lower: a1Lower, pts: a1Points, yTicks: aYTicks, yMin: -0.35, yMax: 0.35,
    area: { l: 124, r: 589, t: 65, b: 559 }, yPad: 12, xPad: 3, labelShift: 3, zeroColor: '#3a3a3a',
    title: { x1: 72, x2: 152, base: 39.5 }, xt: { cx: 355, base: 642 }, yt: { cx: 26, cy: 290 } },
  { curveX: a2CurveX, mean: a2Mean, upper: a2Upper, lower: a2Lower, pts: a2Points, yTicks: aYTicks, yMin: -0.35, yMax: 0.35,
    area: { l: 762, r: 1228, t: 66, b: 560 }, yPad: 20, xPad: 4, labelShift: 1, zeroColor: '#3a3a3a',
    title: { x1: 712, x2: 790, base: 40 }, xt: { cx: 986, base: 642 }, yt: { cx: 656, cy: 290 } },
  { curveX: b1CurveX, mean: b1Mean, upper: b1Upper, lower: b1Lower, pts: b1Points, yTicks: bYTicks, yMin: -0.2, yMax: 0.4,
    area: { l: 124, r: 588, t: 775, b: 1268 }, yPad: 20, xPad: 7, labelShift: 4, zeroColor: '#3a3a3a',
    title: { x1: 75, x2: 153, base: 735 }, xt: { cx: 355, base: 1348 }, yt: { cx: 24, cy: 988 } },
  { curveX: b2CurveX, mean: b2Mean, upper: b2Upper, lower: b2Lower, pts: b2Points, yTicks: bYTicks, yMin: -0.2, yMax: 0.4,
    area: { l: 762, r: 1223, t: 776, b: 1267 }, yPad: 19, xPad: 8, labelShift: 6, zeroColor: '#8a8a8a',
    title: { x1: 712, x2: 792, base: 735 }, xt: { cx: 985, base: 1348 }, yt: { cx: 665, cy: 988 } }
];

// inward tick marks, placed with the chart's own scales
const inwardTicks = {
  id: 'inwardTicks',
  beforeDatasetsDraw(chart) {
    const { ctx, chartArea: a, scales: { x, y } } = chart;
    ctx.save();
    ctx.strokeStyle = '#000';
    ctx.lineWidth = 2;
    ctx.beginPath();
    x.ticks.forEach(t => {
      const p = Math.round(x.getPixelForValue(t.value));
      ctx.moveTo(p, a.bottom);
      ctx.lineTo(p, a.bottom - 7);
    });
    y.ticks.forEach(t => {
      const p = Math.round(y.getPixelForValue(t.value));
      ctx.moveTo(a.left, p);
      ctx.lineTo(a.left + 7, p);
    });
    ctx.stroke();
    ctx.restore();
  }
};

const stage = document.getElementById('stage');

function addText(cls, html, left, top) {
  const d = document.createElement('div');
  d.className = 'txt ' + cls;
  d.innerHTML = html;
  d.style.left = left + 'px';
  d.style.top = top + 'px';
  stage.appendChild(d);
  return d;
}

function curve(xs, ys, width) {
  return {
    data: xs.map((x, i) => ({ x, y: ys[i] })),
    showLine: true, borderColor: '#000', borderWidth: width,
    pointRadius: 0, tension: 0.4, fill: false
  };
}

function fmtY(v) {
  return (v < 0 ? '\u2212' : '') + Math.abs(v).toFixed(1);
}

function makePanel(p, i) {
  const canvas = document.createElement('canvas');
  canvas.width = W;
  canvas.height = H;
  canvas.style.width = W + 'px';
  canvas.style.height = H + 'px';
  stage.appendChild(canvas);

  const Y_W = 100, X_H = 60;
  new Chart(canvas, {
    type: 'scatter',
    data: {
      datasets: [
        curve(p.curveX, p.mean, 4.5),
        curve(p.curveX, p.upper, 1.3),
        curve(p.curveX, p.lower, 1.3),
        {
          data: zeroLineX.map(x => ({ x, y: 0 })),
          showLine: true, borderColor: p.zeroColor, borderWidth: 2,
          borderDash: [2, 5], pointRadius: 0
        },
        {
          data: p.pts.map(([x, y]) => ({ x, y })),
          pointRadius: 2.8, pointBorderWidth: 1,
          pointBorderColor: 'rgba(105,105,105,0.85)', pointBackgroundColor: 'rgba(0,0,0,0)'
        }
      ]
    },
    options: {
      responsive: false,
      animation: false,
      devicePixelRatio: 1,
      events: [],
      layout: { padding: { left: p.area.l - Y_W, right: W - p.area.r, top: p.area.t, bottom: H - p.area.b - X_H } },
      plugins: { legend: { display: false }, tooltip: { enabled: false } },
      scales: {
        x: {
          type: 'linear', min: 0, max: 1,
          afterBuildTicks: s => { s.ticks = xTicks.map(v => ({ value: v })); },
          afterFit: s => { s.height = X_H; s.paddingLeft = 0; s.paddingRight = 0; },
          grid: { display: false, drawTicks: false },
          border: { display: true, color: '#000', width: 3 },
          ticks: {
            padding: p.xPad, color: '#000', font: { family: FONT, size: 30 },
            maxRotation: 0, autoSkip: false, labelOffset: p.labelShift,
            callback: v => Number(v).toFixed(1)
          }
        },
        y: {
          type: 'linear', min: p.yMin, max: p.yMax,
          afterBuildTicks: s => { s.ticks = p.yTicks.map(v => ({ value: v })); },
          afterFit: s => { s.width = Y_W; s.paddingTop = 0; s.paddingBottom = 0; },
          grid: { display: false, drawTicks: false },
          border: { display: true, color: '#000', width: 3 },
          ticks: {
            padding: p.yPad, color: '#000', font: { family: FONT, size: 30 },
            autoSkip: false, callback: v => fmtY(v)
          }
        }
      }
    },
    plugins: [inwardTicks]
  });

  // panel title, axis titles
  const ttlTop = p.title.base - 0.8465 * 33;
  addText('ttl', '<b>' + panelLetters[i] + '</b>', p.title.x1, ttlTop);
  addText('ttl', panelNames[i], p.title.x2, ttlTop);
  addText('xt', xTitle, p.xt.cx, p.xt.base - 0.8465 * 30);
  addText('yt', yTitle, p.yt.cx, p.yt.cy);
}

panels.forEach(makePanel);
</script>
</body>
</html>
